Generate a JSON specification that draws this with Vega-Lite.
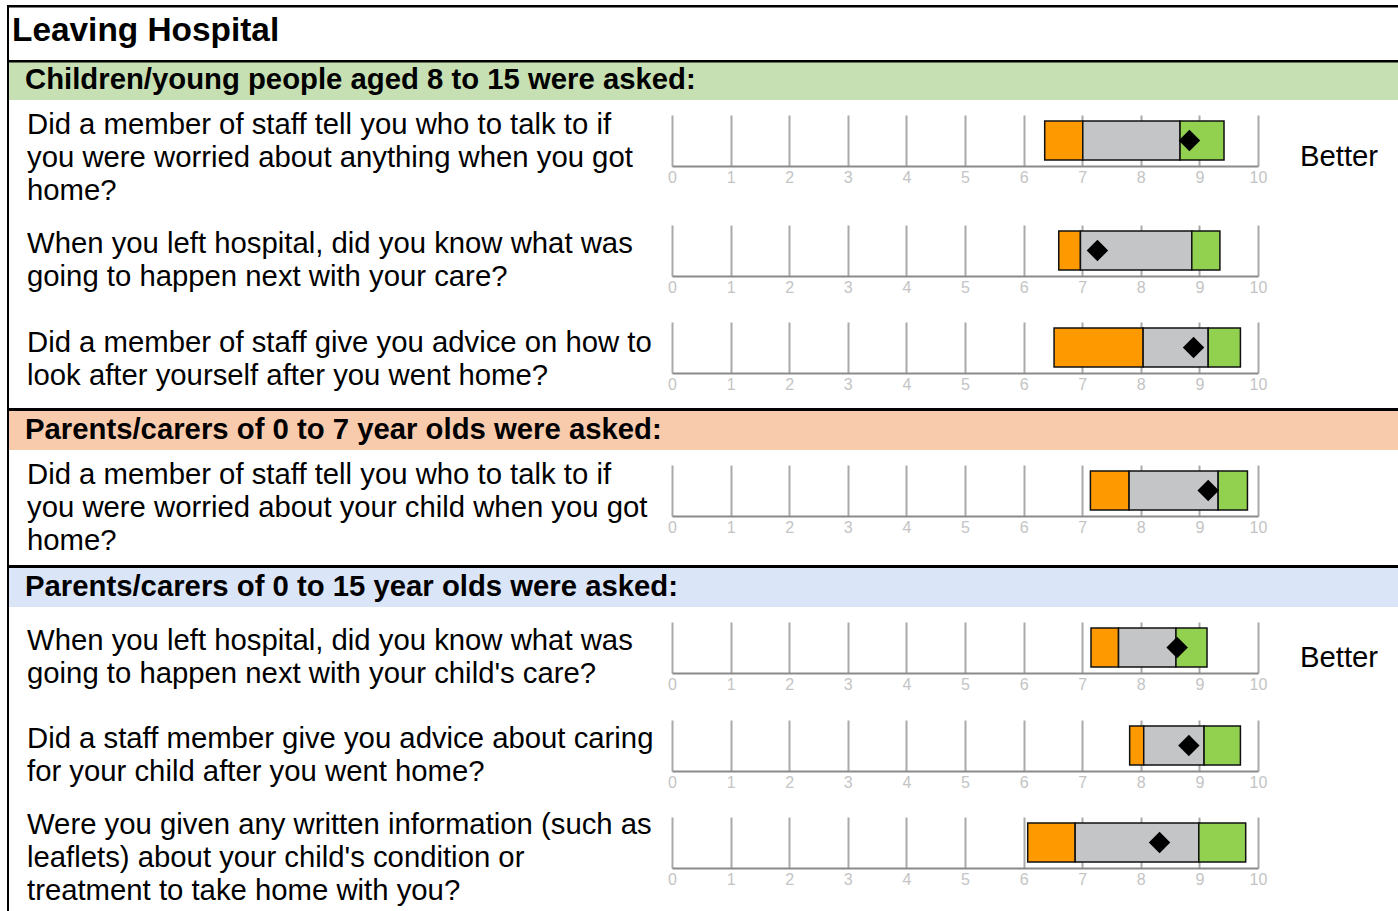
{
  "$schema": "https://vega.github.io/schema/vega-lite/v6.json",
  "padding": {"left": 7, "top": 5, "right": 0, "bottom": 0},
  "spacing": 0,
  "bounds": "full",
  "config": {
    "view": {"stroke": null},
    "font": "Liberation Sans",
    "axisX": {"grid": true, "gridColor": "#a9a9a9", "gridWidth": 2, "domainColor": "#8a8a8a", "domainWidth": 2, "ticks": false, "labelColor": "#c4c4c4", "labelFontSize": 16, "labelPadding": 3, "labelFlush": false, "labelOverlap": false, "tickCount": 10}
  },
  "datasets": {
    "questions": [
      {"id": "q1", "question": "Did a member of staff tell you who to talk to if|you were worried about anything when you got|home?", "worse_from": 6.36, "same_from": 7.01, "better_from": 8.67, "better_to": 9.42, "score": 8.83, "result": "Better"},
      {"id": "q2", "question": "When you left hospital, did you know what was|going to happen next with your care?", "worse_from": 6.60, "same_from": 6.97, "better_from": 8.87, "better_to": 9.35, "score": 7.26, "result": ""},
      {"id": "q3", "question": "Did a member of staff give you advice on how to|look after yourself after you went home?", "worse_from": 6.52, "same_from": 8.04, "better_from": 9.15, "better_to": 9.70, "score": 8.90, "result": ""},
      {"id": "q4", "question": "Did a member of staff tell you who to talk to if|you were worried about your child when you got|home?", "worse_from": 7.14, "same_from": 7.80, "better_from": 9.32, "better_to": 9.82, "score": 9.15, "result": ""},
      {"id": "q5", "question": "When you left hospital, did you know what was|going to happen next with your child's care?", "worse_from": 7.15, "same_from": 7.62, "better_from": 8.60, "better_to": 9.13, "score": 8.62, "result": "Better"},
      {"id": "q6", "question": "Did a staff member give you advice about caring|for your child after you went home?", "worse_from": 7.81, "same_from": 8.05, "better_from": 9.08, "better_to": 9.70, "score": 8.82, "result": ""},
      {"id": "q7", "question": "Were you given any written information (such as|leaflets) about your child's condition or|treatment to take home with you?", "worse_from": 6.07, "same_from": 6.88, "better_from": 8.99, "better_to": 9.79, "score": 8.32, "result": ""}
    ]
  },
  "vconcat": [
    {
      "width": 1391, "height": 55,
      "data": {"values": [{"label": "Leaving Hospital"}]},
      "layer": [
        {"mark": {"type": "text", "align": "left", "baseline": "middle", "fontSize": 33.4, "fontWeight": "bold", "dx": 5, "dy": -2}, "encoding": {"x": {"datum": 0, "type": "quantitative", "scale": {"domain": [0, 1]}, "axis": null}, "text": {"field": "label"}}},
        {"mark": {"type": "rule", "color": "black", "strokeWidth": 4, "clip": true}, "encoding": {"x": {"datum": 0, "type": "quantitative", "axis": null}}},
        {"mark": {"type": "rule", "color": "black", "strokeWidth": 5, "clip": true}, "encoding": {"y": {"datum": 1, "type": "quantitative", "scale": {"domain": [0, 1]}, "axis": null}}}
      ]
    },
    {
      "width": 1391, "height": 40,
      "view": {"fill": "#c6e0b4", "stroke": null},
      "data": {"values": [{"label": "Children/young people aged 8 to 15 were asked:"}]},
      "layer": [
        {"mark": {"type": "text", "align": "left", "baseline": "middle", "fontSize": 29.3, "fontWeight": "bold", "dx": 18, "dy": 0}, "encoding": {"x": {"datum": 0, "type": "quantitative", "scale": {"domain": [0, 1]}, "axis": null}, "text": {"field": "label"}}},
        {"mark": {"type": "rule", "color": "black", "strokeWidth": 4, "clip": true}, "encoding": {"x": {"datum": 0, "type": "quantitative", "axis": null}}},
        {"mark": {"type": "rule", "color": "black", "strokeWidth": 5, "clip": true}, "encoding": {"y": {"datum": 1, "type": "quantitative", "scale": {"domain": [0, 1]}, "axis": null}}}
      ]
    },
    {
      "hconcat": [
        {"width": 659.5, "height": 110, "data": {"name": "questions"}, "transform": [{"filter": "datum.id === 'q1'"}],
         "layer": [
           {"mark": {"type": "rule", "color": "black", "strokeWidth": 4, "clip": true}, "encoding": {"x": {"datum": 0, "type": "quantitative", "scale": {"domain": [0, 1]}, "axis": null}}},
           {"mark": {"type": "text", "align": "left", "baseline": "middle", "fontSize": 29.3, "lineHeight": 33, "lineBreak": "|", "dx": 20, "dy": -30}, "encoding": {"x": {"datum": 0, "type": "quantitative", "axis": null}, "text": {"field": "question"}}}
         ]},
        {"vconcat": [
           {"width": 586, "height": 15, "data": {"values": [{}]}, "mark": {"type": "point", "opacity": 0}, "encoding": {}},
           {"width": 586, "height": 51, "data": {"name": "questions"}, "transform": [{"filter": "datum.id === 'q1'"}],
            "encoding": {"y": {"field": "id", "type": "nominal", "scale": {"paddingInner": 0, "paddingOuter": 0.154}, "axis": null}},
            "layer": [
              {"mark": {"type": "bar", "fill": "#ff9900", "stroke": "#111111", "strokeWidth": 1.5}, "encoding": {"x": {"field": "worse_from", "type": "quantitative", "scale": {"domain": [0, 10], "nice": false, "zero": false}, "axis": {"title": null}}, "x2": {"field": "same_from"}}},
              {"mark": {"type": "bar", "fill": "#c4c5c7", "stroke": "#111111", "strokeWidth": 1.5}, "encoding": {"x": {"field": "same_from", "type": "quantitative", "axis": {"title": null}}, "x2": {"field": "better_from"}}},
              {"mark": {"type": "bar", "fill": "#92d050", "stroke": "#111111", "strokeWidth": 1.5}, "encoding": {"x": {"field": "better_from", "type": "quantitative", "axis": {"title": null}}, "x2": {"field": "better_to"}}},
              {"mark": {"type": "point", "shape": "diamond", "filled": true, "fill": "black", "size": 460, "opacity": 1, "strokeWidth": 0}, "encoding": {"x": {"field": "score", "type": "quantitative", "axis": {"title": null}}}}
            ]}
         ], "spacing": 0, "bounds": "full"},
        {"width": 140, "height": 110, "data": {"name": "questions"}, "transform": [{"filter": "datum.id === 'q1'"}],
         "mark": {"type": "text", "align": "center", "baseline": "middle", "fontSize": 29.3, "dx": 2, "dy": 2}, "encoding": {"text": {"field": "result"}}}
      ],
      "spacing": 0, "bounds": "full"
    },
    {
      "hconcat": [
        {"width": 659.5, "height": 97, "data": {"name": "questions"}, "transform": [{"filter": "datum.id === 'q2'"}],
         "layer": [
           {"mark": {"type": "rule", "color": "black", "strokeWidth": 4, "clip": true}, "encoding": {"x": {"datum": 0, "type": "quantitative", "scale": {"domain": [0, 1]}, "axis": null}}},
           {"mark": {"type": "text", "align": "left", "baseline": "middle", "fontSize": 29.3, "lineHeight": 33, "lineBreak": "|", "dx": 20, "dy": -15}, "encoding": {"x": {"datum": 0, "type": "quantitative", "axis": null}, "text": {"field": "question"}}}
         ]},
        {"vconcat": [
           {"width": 586, "height": 15, "data": {"values": [{}]}, "mark": {"type": "point", "opacity": 0}, "encoding": {}},
           {"width": 586, "height": 51, "data": {"name": "questions"}, "transform": [{"filter": "datum.id === 'q2'"}],
            "encoding": {"y": {"field": "id", "type": "nominal", "scale": {"paddingInner": 0, "paddingOuter": 0.154}, "axis": null}},
            "layer": [
              {"mark": {"type": "bar", "fill": "#ff9900", "stroke": "#111111", "strokeWidth": 1.5}, "encoding": {"x": {"field": "worse_from", "type": "quantitative", "scale": {"domain": [0, 10], "nice": false, "zero": false}, "axis": {"title": null}}, "x2": {"field": "same_from"}}},
              {"mark": {"type": "bar", "fill": "#c4c5c7", "stroke": "#111111", "strokeWidth": 1.5}, "encoding": {"x": {"field": "same_from", "type": "quantitative", "axis": {"title": null}}, "x2": {"field": "better_from"}}},
              {"mark": {"type": "bar", "fill": "#92d050", "stroke": "#111111", "strokeWidth": 1.5}, "encoding": {"x": {"field": "better_from", "type": "quantitative", "axis": {"title": null}}, "x2": {"field": "better_to"}}},
              {"mark": {"type": "point", "shape": "diamond", "filled": true, "fill": "black", "size": 460, "opacity": 1, "strokeWidth": 0}, "encoding": {"x": {"field": "score", "type": "quantitative", "axis": {"title": null}}}}
            ]}
         ], "spacing": 0, "bounds": "full"},
        {"width": 140, "height": 97, "data": {"name": "questions"}, "transform": [{"filter": "datum.id === 'q2'"}],
         "mark": {"type": "text", "align": "center", "baseline": "middle", "fontSize": 29.3, "dx": 2, "dy": 2}, "encoding": {"text": {"field": "result"}}}
      ],
      "spacing": 0, "bounds": "full"
    },
    {
      "hconcat": [
        {"width": 659.5, "height": 101, "data": {"name": "questions"}, "transform": [{"filter": "datum.id === 'q3'"}],
         "layer": [
           {"mark": {"type": "rule", "color": "black", "strokeWidth": 4, "clip": true}, "encoding": {"x": {"datum": 0, "type": "quantitative", "scale": {"domain": [0, 1]}, "axis": null}}},
           {"mark": {"type": "text", "align": "left", "baseline": "middle", "fontSize": 29.3, "lineHeight": 33, "lineBreak": "|", "dx": 20, "dy": -15}, "encoding": {"x": {"datum": 0, "type": "quantitative", "axis": null}, "text": {"field": "question"}}}
         ]},
        {"vconcat": [
           {"width": 586, "height": 15, "data": {"values": [{}]}, "mark": {"type": "point", "opacity": 0}, "encoding": {}},
           {"width": 586, "height": 51, "data": {"name": "questions"}, "transform": [{"filter": "datum.id === 'q3'"}],
            "encoding": {"y": {"field": "id", "type": "nominal", "scale": {"paddingInner": 0, "paddingOuter": 0.154}, "axis": null}},
            "layer": [
              {"mark": {"type": "bar", "fill": "#ff9900", "stroke": "#111111", "strokeWidth": 1.5}, "encoding": {"x": {"field": "worse_from", "type": "quantitative", "scale": {"domain": [0, 10], "nice": false, "zero": false}, "axis": {"title": null}}, "x2": {"field": "same_from"}}},
              {"mark": {"type": "bar", "fill": "#c4c5c7", "stroke": "#111111", "strokeWidth": 1.5}, "encoding": {"x": {"field": "same_from", "type": "quantitative", "axis": {"title": null}}, "x2": {"field": "better_from"}}},
              {"mark": {"type": "bar", "fill": "#92d050", "stroke": "#111111", "strokeWidth": 1.5}, "encoding": {"x": {"field": "better_from", "type": "quantitative", "axis": {"title": null}}, "x2": {"field": "better_to"}}},
              {"mark": {"type": "point", "shape": "diamond", "filled": true, "fill": "black", "size": 460, "opacity": 1, "strokeWidth": 0}, "encoding": {"x": {"field": "score", "type": "quantitative", "axis": {"title": null}}}}
            ]}
         ], "spacing": 0, "bounds": "full"},
        {"width": 140, "height": 101, "data": {"name": "questions"}, "transform": [{"filter": "datum.id === 'q3'"}],
         "mark": {"type": "text", "align": "center", "baseline": "middle", "fontSize": 29.3, "dx": 2, "dy": 2}, "encoding": {"text": {"field": "result"}}}
      ],
      "spacing": 0, "bounds": "full"
    },
    {
      "width": 1391, "height": 42,
      "view": {"fill": "#f9cbad", "stroke": null},
      "data": {"values": [{"label": "Parents/carers of 0 to 7 year olds were asked:"}]},
      "layer": [
        {"mark": {"type": "text", "align": "left", "baseline": "middle", "fontSize": 29.3, "fontWeight": "bold", "dx": 18, "dy": 1}, "encoding": {"x": {"datum": 0, "type": "quantitative", "scale": {"domain": [0, 1]}, "axis": null}, "text": {"field": "label"}}},
        {"mark": {"type": "rule", "color": "black", "strokeWidth": 4, "clip": true}, "encoding": {"x": {"datum": 0, "type": "quantitative", "axis": null}}},
        {"mark": {"type": "rule", "color": "black", "strokeWidth": 6, "clip": true}, "encoding": {"y": {"datum": 1, "type": "quantitative", "scale": {"domain": [0, 1]}, "axis": null}}}
      ]
    },
    {
      "hconcat": [
        {"width": 659.5, "height": 115, "data": {"name": "questions"}, "transform": [{"filter": "datum.id === 'q4'"}],
         "layer": [
           {"mark": {"type": "rule", "color": "black", "strokeWidth": 4, "clip": true}, "encoding": {"x": {"datum": 0, "type": "quantitative", "scale": {"domain": [0, 1]}, "axis": null}}},
           {"mark": {"type": "text", "align": "left", "baseline": "middle", "fontSize": 29.3, "lineHeight": 33, "lineBreak": "|", "dx": 20, "dy": -33}, "encoding": {"x": {"datum": 0, "type": "quantitative", "axis": null}, "text": {"field": "question"}}}
         ]},
        {"vconcat": [
           {"width": 586, "height": 15, "data": {"values": [{}]}, "mark": {"type": "point", "opacity": 0}, "encoding": {}},
           {"width": 586, "height": 51, "data": {"name": "questions"}, "transform": [{"filter": "datum.id === 'q4'"}],
            "encoding": {"y": {"field": "id", "type": "nominal", "scale": {"paddingInner": 0, "paddingOuter": 0.154}, "axis": null}},
            "layer": [
              {"mark": {"type": "bar", "fill": "#ff9900", "stroke": "#111111", "strokeWidth": 1.5}, "encoding": {"x": {"field": "worse_from", "type": "quantitative", "scale": {"domain": [0, 10], "nice": false, "zero": false}, "axis": {"title": null}}, "x2": {"field": "same_from"}}},
              {"mark": {"type": "bar", "fill": "#c4c5c7", "stroke": "#111111", "strokeWidth": 1.5}, "encoding": {"x": {"field": "same_from", "type": "quantitative", "axis": {"title": null}}, "x2": {"field": "better_from"}}},
              {"mark": {"type": "bar", "fill": "#92d050", "stroke": "#111111", "strokeWidth": 1.5}, "encoding": {"x": {"field": "better_from", "type": "quantitative", "axis": {"title": null}}, "x2": {"field": "better_to"}}},
              {"mark": {"type": "point", "shape": "diamond", "filled": true, "fill": "black", "size": 460, "opacity": 1, "strokeWidth": 0}, "encoding": {"x": {"field": "score", "type": "quantitative", "axis": {"title": null}}}}
            ]}
         ], "spacing": 0, "bounds": "full"},
        {"width": 140, "height": 115, "data": {"name": "questions"}, "transform": [{"filter": "datum.id === 'q4'"}],
         "mark": {"type": "text", "align": "center", "baseline": "middle", "fontSize": 29.3, "dx": 2, "dy": 2}, "encoding": {"text": {"field": "result"}}}
      ],
      "spacing": 0, "bounds": "full"
    },
    {
      "width": 1391, "height": 42,
      "view": {"fill": "#dbe5f8", "stroke": null},
      "data": {"values": [{"label": "Parents/carers of 0 to 15 year olds were asked:"}]},
      "layer": [
        {"mark": {"type": "text", "align": "left", "baseline": "middle", "fontSize": 29.3, "fontWeight": "bold", "dx": 18, "dy": 1}, "encoding": {"x": {"datum": 0, "type": "quantitative", "scale": {"domain": [0, 1]}, "axis": null}, "text": {"field": "label"}}},
        {"mark": {"type": "rule", "color": "black", "strokeWidth": 4, "clip": true}, "encoding": {"x": {"datum": 0, "type": "quantitative", "axis": null}}},
        {"mark": {"type": "rule", "color": "black", "strokeWidth": 6, "clip": true}, "encoding": {"y": {"datum": 1, "type": "quantitative", "scale": {"domain": [0, 1]}, "axis": null}}}
      ]
    },
    {
      "hconcat": [
        {"width": 659.5, "height": 98, "data": {"name": "questions"}, "transform": [{"filter": "datum.id === 'q5'"}],
         "layer": [
           {"mark": {"type": "rule", "color": "black", "strokeWidth": 4, "clip": true}, "encoding": {"x": {"datum": 0, "type": "quantitative", "scale": {"domain": [0, 1]}, "axis": null}}},
           {"mark": {"type": "text", "align": "left", "baseline": "middle", "fontSize": 29.3, "lineHeight": 33, "lineBreak": "|", "dx": 20, "dy": -15}, "encoding": {"x": {"datum": 0, "type": "quantitative", "axis": null}, "text": {"field": "question"}}}
         ]},
        {"vconcat": [
           {"width": 586, "height": 15, "data": {"values": [{}]}, "mark": {"type": "point", "opacity": 0}, "encoding": {}},
           {"width": 586, "height": 51, "data": {"name": "questions"}, "transform": [{"filter": "datum.id === 'q5'"}],
            "encoding": {"y": {"field": "id", "type": "nominal", "scale": {"paddingInner": 0, "paddingOuter": 0.154}, "axis": null}},
            "layer": [
              {"mark": {"type": "bar", "fill": "#ff9900", "stroke": "#111111", "strokeWidth": 1.5}, "encoding": {"x": {"field": "worse_from", "type": "quantitative", "scale": {"domain": [0, 10], "nice": false, "zero": false}, "axis": {"title": null}}, "x2": {"field": "same_from"}}},
              {"mark": {"type": "bar", "fill": "#c4c5c7", "stroke": "#111111", "strokeWidth": 1.5}, "encoding": {"x": {"field": "same_from", "type": "quantitative", "axis": {"title": null}}, "x2": {"field": "better_from"}}},
              {"mark": {"type": "bar", "fill": "#92d050", "stroke": "#111111", "strokeWidth": 1.5}, "encoding": {"x": {"field": "better_from", "type": "quantitative", "axis": {"title": null}}, "x2": {"field": "better_to"}}},
              {"mark": {"type": "point", "shape": "diamond", "filled": true, "fill": "black", "size": 460, "opacity": 1, "strokeWidth": 0}, "encoding": {"x": {"field": "score", "type": "quantitative", "axis": {"title": null}}}}
            ]}
         ], "spacing": 0, "bounds": "full"},
        {"width": 140, "height": 98, "data": {"name": "questions"}, "transform": [{"filter": "datum.id === 'q5'"}],
         "mark": {"type": "text", "align": "center", "baseline": "middle", "fontSize": 29.3, "dx": 2, "dy": 2}, "encoding": {"text": {"field": "result"}}}
      ],
      "spacing": 0, "bounds": "full"
    },
    {
      "hconcat": [
        {"width": 659.5, "height": 97, "data": {"name": "questions"}, "transform": [{"filter": "datum.id === 'q6'"}],
         "layer": [
           {"mark": {"type": "rule", "color": "black", "strokeWidth": 4, "clip": true}, "encoding": {"x": {"datum": 0, "type": "quantitative", "scale": {"domain": [0, 1]}, "axis": null}}},
           {"mark": {"type": "text", "align": "left", "baseline": "middle", "fontSize": 29.3, "lineHeight": 33, "lineBreak": "|", "dx": 20, "dy": -15}, "encoding": {"x": {"datum": 0, "type": "quantitative", "axis": null}, "text": {"field": "question"}}}
         ]},
        {"vconcat": [
           {"width": 586, "height": 15, "data": {"values": [{}]}, "mark": {"type": "point", "opacity": 0}, "encoding": {}},
           {"width": 586, "height": 51, "data": {"name": "questions"}, "transform": [{"filter": "datum.id === 'q6'"}],
            "encoding": {"y": {"field": "id", "type": "nominal", "scale": {"paddingInner": 0, "paddingOuter": 0.154}, "axis": null}},
            "layer": [
              {"mark": {"type": "bar", "fill": "#ff9900", "stroke": "#111111", "strokeWidth": 1.5}, "encoding": {"x": {"field": "worse_from", "type": "quantitative", "scale": {"domain": [0, 10], "nice": false, "zero": false}, "axis": {"title": null}}, "x2": {"field": "same_from"}}},
              {"mark": {"type": "bar", "fill": "#c4c5c7", "stroke": "#111111", "strokeWidth": 1.5}, "encoding": {"x": {"field": "same_from", "type": "quantitative", "axis": {"title": null}}, "x2": {"field": "better_from"}}},
              {"mark": {"type": "bar", "fill": "#92d050", "stroke": "#111111", "strokeWidth": 1.5}, "encoding": {"x": {"field": "better_from", "type": "quantitative", "axis": {"title": null}}, "x2": {"field": "better_to"}}},
              {"mark": {"type": "point", "shape": "diamond", "filled": true, "fill": "black", "size": 460, "opacity": 1, "strokeWidth": 0}, "encoding": {"x": {"field": "score", "type": "quantitative", "axis": {"title": null}}}}
            ]}
         ], "spacing": 0, "bounds": "full"},
        {"width": 140, "height": 97, "data": {"name": "questions"}, "transform": [{"filter": "datum.id === 'q6'"}],
         "mark": {"type": "text", "align": "center", "baseline": "middle", "fontSize": 29.3, "dx": 2, "dy": 2}, "encoding": {"text": {"field": "result"}}}
      ],
      "spacing": 0, "bounds": "full"
    },
    {
      "hconcat": [
        {"width": 659.5, "height": 109, "data": {"name": "questions"}, "transform": [{"filter": "datum.id === 'q7'"}],
         "layer": [
           {"mark": {"type": "rule", "color": "black", "strokeWidth": 4, "clip": true}, "encoding": {"x": {"datum": 0, "type": "quantitative", "scale": {"domain": [0, 1]}, "axis": null}}},
           {"mark": {"type": "text", "align": "left", "baseline": "middle", "fontSize": 29.3, "lineHeight": 33, "lineBreak": "|", "dx": 20, "dy": -32}, "encoding": {"x": {"datum": 0, "type": "quantitative", "axis": null}, "text": {"field": "question"}}}
         ]},
        {"vconcat": [
           {"width": 586, "height": 15, "data": {"values": [{}]}, "mark": {"type": "point", "opacity": 0}, "encoding": {}},
           {"width": 586, "height": 51, "data": {"name": "questions"}, "transform": [{"filter": "datum.id === 'q7'"}],
            "encoding": {"y": {"field": "id", "type": "nominal", "scale": {"paddingInner": 0, "paddingOuter": 0.154}, "axis": null}},
            "layer": [
              {"mark": {"type": "bar", "fill": "#ff9900", "stroke": "#111111", "strokeWidth": 1.5}, "encoding": {"x": {"field": "worse_from", "type": "quantitative", "scale": {"domain": [0, 10], "nice": false, "zero": false}, "axis": {"title": null}}, "x2": {"field": "same_from"}}},
              {"mark": {"type": "bar", "fill": "#c4c5c7", "stroke": "#111111", "strokeWidth": 1.5}, "encoding": {"x": {"field": "same_from", "type": "quantitative", "axis": {"title": null}}, "x2": {"field": "better_from"}}},
              {"mark": {"type": "bar", "fill": "#92d050", "stroke": "#111111", "strokeWidth": 1.5}, "encoding": {"x": {"field": "better_from", "type": "quantitative", "axis": {"title": null}}, "x2": {"field": "better_to"}}},
              {"mark": {"type": "point", "shape": "diamond", "filled": true, "fill": "black", "size": 460, "opacity": 1, "strokeWidth": 0}, "encoding": {"x": {"field": "score", "type": "quantitative", "axis": {"title": null}}}}
            ]}
         ], "spacing": 0, "bounds": "full"},
        {"width": 140, "height": 109, "data": {"name": "questions"}, "transform": [{"filter": "datum.id === 'q7'"}],
         "mark": {"type": "text", "align": "center", "baseline": "middle", "fontSize": 29.3, "dx": 2, "dy": 2}, "encoding": {"text": {"field": "result"}}}
      ],
      "spacing": 0, "bounds": "full"
    }
  ]
}
